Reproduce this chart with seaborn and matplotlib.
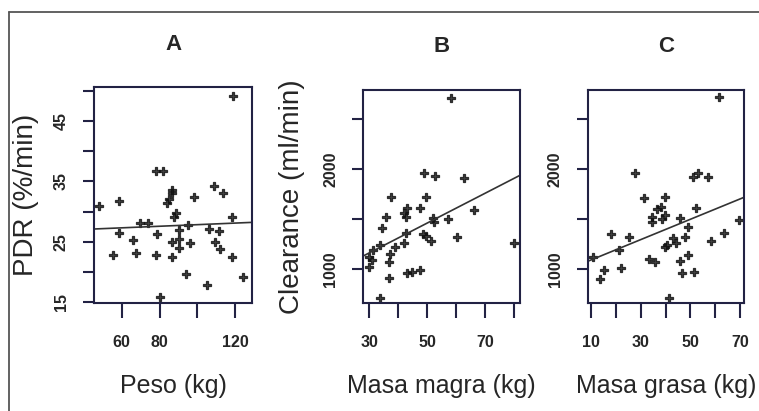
import matplotlib
matplotlib.use("Agg")
import matplotlib.pyplot as plt
from matplotlib import font_manager
from matplotlib.lines import Line2D
import seaborn as sns
import numpy as np
import pandas as pd

# ---------------- data ----------------
peso = [118.9, 77.9, 81.7, 108.9, 113.7, 86.7, 86.7, 84.9, 83.9, 98.4, 58.6, 48.1,
        88.8, 87.9, 118.3, 69.8, 73.8, 94.9, 90.5, 106.3, 111.6, 58.6, 78.8, 66.0,
        90.5, 86.5, 96.3, 109.5, 90.5, 111.9, 55.4, 67.4, 77.9, 86.5, 118.6, 94.0,
        124.2, 105.4, 80.0]
pdr = [49.2, 36.7, 36.8, 34.3, 33.1, 33.5, 33.0, 32.1, 31.4, 32.4, 31.7, 31.0,
       29.7, 29.1, 29.1, 28.1, 28.1, 27.8, 27.0, 27.1, 26.8, 26.4, 26.2, 25.3,
       25.4, 25.0, 24.7, 25.0, 24.0, 23.7, 22.7, 23.1, 22.8, 22.4, 22.4, 19.6,
       19.2, 17.8, 15.8]

masa_magra = [58.3, 49.0, 52.8, 62.8, 37.5, 49.5, 43.0, 47.6, 66.2, 42.1, 35.9, 42.8,
              52.0, 57.3, 52.2, 34.4, 42.8, 48.5, 49.7, 60.2, 42.1, 51.3, 79.8, 33.8,
              39.0, 31.5, 37.2, 29.8, 30.9, 36.7, 30.1, 43.2, 44.7, 47.6, 36.7, 33.8]
clear_b = [2707, 1957, 1933, 1913, 1717, 1717, 1607, 1607, 1590, 1557, 1517, 1517,
           1507, 1497, 1473, 1413, 1363, 1350, 1330, 1317, 1257, 1280, 1257, 1240,
           1223, 1190, 1150, 1123, 1090, 1073, 1017, 963, 967, 990, 907, 713]

masa_grasa = [61.6, 27.7, 52.9, 51.0, 57.3, 31.5, 39.6, 38.2, 36.5, 52.3, 39.8, 34.5,
              34.5, 38.5, 45.9, 49.0, 69.4, 17.9, 25.4, 63.6, 47.9, 43.2, 58.4, 44.3,
              40.8, 39.6, 21.3, 49.2, 33.5, 35.8, 45.9, 10.9, 15.2, 22.1, 51.3, 46.6,
              13.6, 41.6]
clear_c = [2723, 1963, 1957, 1917, 1923, 1713, 1723, 1623, 1597, 1613, 1540, 1517,
           1473, 1497, 1513, 1423, 1490, 1350, 1323, 1363, 1323, 1307, 1283, 1257,
           1240, 1217, 1190, 1140, 1097, 1073, 1080, 1123, 990, 1013, 973, 957,
           897, 707]

titles = ["A", "B", "C"]
xlabels = ["Peso (kg)", "Masa magra (kg)", "Masa grasa (kg)"]
ylabels = ["PDR (%/min)", "Clearance (ml/min)", None]

xticks_a = [60, 80, 100, 120]
xticklabels_a = ["60", "80", "", "120"]
yticks_a = [15, 20, 25, 30, 35, 40, 45, 50]
yticklabels_a = ["15", "", "25", "", "35", "", "45", ""]
xticks_b = [30, 40, 50, 60, 70, 80]
xticklabels_b = ["30", "", "50", "", "70", ""]
xticks_c = [10, 20, 30, 40, 50, 60, 70]
xticklabels_c = ["10", "", "30", "", "50", "", "70"]
yticks_bc = [1000, 1500, 2000, 2500]
yticklabels_bc = ["1000", "", "2000", ""]

# ---------------- fonts ----------------
available = {f.name for f in font_manager.fontManager.ttflist}
narrow = "Liberation Sans Narrow" if "Liberation Sans Narrow" in available else (
    "DejaVu Sans Condensed" if "DejaVu Sans Condensed" in available else "Liberation Sans")

sns.set_theme(style="white")
plt.rcParams["font.family"] = ["Liberation Sans", "DejaVu Sans"]

fig = plt.figure(figsize=(7.59, 4.11), dpi=100)
fig.patch.set_facecolor("white")

positions = [
    [94 / 759, 1 - 303 / 411, (252 - 94) / 759, (303 - 87) / 411],
    [363 / 759, 1 - 303 / 411, (520 - 363) / 759, (303 - 90) / 411],
    [588 / 759, 1 - 303 / 411, (744 - 588) / 759, (303 - 90) / 411],
]

panels = [
    (peso, pdr, (45.3, 129.0), (14.8, 50.7), xticks_a, xticklabels_a, yticks_a, yticklabels_a),
    (masa_magra, clear_b, (27.9, 82.0), (660, 2790), xticks_b, xticklabels_b, yticks_bc, yticklabels_bc),
    (masa_grasa, clear_c, (8.8, 71.6), (660, 2790), xticks_c, xticklabels_c, yticks_bc, yticklabels_bc),
]

for i, (xs, ys, xl, yl, xt, xtl, yt, ytl) in enumerate(panels):
    ax = fig.add_axes(positions[i])
    df = pd.DataFrame({"x": xs, "y": ys})
    ax.set_xlim(*xl)
    ax.set_ylim(*yl)
    sns.regplot(data=df, x="x", y="y", ax=ax, ci=None, truncate=False,
                marker="P", color="black",
                scatter_kws={"s": 40, "linewidths": 0.9, "color": "#111111",
                             "edgecolors": "#111111"},
                line_kws={"color": "#333333", "lw": 1.2})
    ax.set_xlim(*xl)
    ax.set_ylim(*yl)
    ax.set_xticks(xt)
    ax.set_xticklabels(xtl, fontfamily=narrow, fontsize=11.5, fontweight="bold")
    ax.set_yticks(yt)
    ax.set_yticklabels(ytl, fontfamily=narrow, fontsize=11.5, fontweight="bold",
                       rotation=90, va="center")
    ax.tick_params(axis="x", direction="out", length=11, width=1.5, color="#222244",
                   pad=12, bottom=True)
    ax.tick_params(axis="y", direction="out", length=8, width=1.5, color="#222244",
                   pad=10, left=True)
    for sp in ax.spines.values():
        sp.set_visible(True)
        sp.set_color("#222244")
        sp.set_linewidth(1.5)
    ax.set_xlabel(xlabels[i], fontsize=18, labelpad=17)
    if ylabels[i]:
        ax.set_ylabel(ylabels[i], fontsize=20, labelpad=11 if i == 0 else 13)
    else:
        ax.set_ylabel("")
    ax.set_title(titles[i], fontfamily=narrow, fontsize=16, fontweight="bold", pad=27)
    ax.grid(False)

# outer frame (top and left edges)
fig.add_artist(Line2D([9 / 759, 1.0], [1 - 12 / 411, 1 - 12 / 411],
                      transform=fig.transFigure, color="#555555", lw=1.3))
fig.add_artist(Line2D([9 / 759, 9 / 759], [0.0, 1 - 12 / 411],
                      transform=fig.transFigure, color="#555555", lw=1.3))

fig.savefig("out.png", dpi=100, facecolor="white")
